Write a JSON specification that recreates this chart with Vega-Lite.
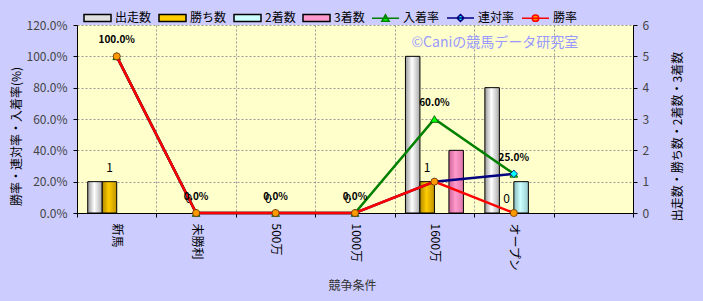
{
  "$schema": "https://vega.github.io/schema/vega-lite/v6.json",
  "width": 556,
  "height": 188,
  "autosize": {"type": "none"},
  "padding": {"left": 77, "top": 25, "right": 70, "bottom": 88},
  "background": "#CCCCFF",
  "config": {
    "view": {"fill": "#FFFFCC", "stroke": null},
    "font": "Noto Sans CJK JP",
    "text": {"font": "Noto Sans CJK JP"},
    "axis": {
      "labelFont": "Noto Sans CJK JP",
      "titleFont": "Noto Sans CJK JP",
      "labelFontSize": 12,
      "titleFontSize": 12,
      "titleFontWeight": "normal",
      "domainColor": "#000000",
      "tickColor": "#000000",
      "gridColor": "#999999",
      "gridDash": [2, 2]
    },
    "legend": {
      "title": null,
      "orient": "none",
      "legendX": 6,
      "legendY": -22,
      "direction": "horizontal",
      "columns": 7,
      "symbolSize": 729,
      "labelFontSize": 12,
      "labelFont": "Noto Sans CJK JP",
      "labelColor": "#000000",
      "labelOffset": 3,
      "columnPadding": 4,
      "padding": 0,
      "symbolOpacity": 1,
      "symbolStrokeWidth": 1.5
    }
  },
  "datasets": {
    "counts": [
      {"cond": "新馬", "series": "出走数", "value": 1},
      {"cond": "新馬", "series": "勝ち数", "value": 1},
      {"cond": "新馬", "series": "2着数", "value": 0},
      {"cond": "新馬", "series": "3着数", "value": 0},
      {"cond": "未勝利", "series": "出走数", "value": 0},
      {"cond": "未勝利", "series": "勝ち数", "value": 0},
      {"cond": "未勝利", "series": "2着数", "value": 0},
      {"cond": "未勝利", "series": "3着数", "value": 0},
      {"cond": "500万", "series": "出走数", "value": 0},
      {"cond": "500万", "series": "勝ち数", "value": 0},
      {"cond": "500万", "series": "2着数", "value": 0},
      {"cond": "500万", "series": "3着数", "value": 0},
      {"cond": "1000万", "series": "出走数", "value": 0},
      {"cond": "1000万", "series": "勝ち数", "value": 0},
      {"cond": "1000万", "series": "2着数", "value": 0},
      {"cond": "1000万", "series": "3着数", "value": 0},
      {"cond": "1600万", "series": "出走数", "value": 5},
      {"cond": "1600万", "series": "勝ち数", "value": 1},
      {"cond": "1600万", "series": "2着数", "value": 0},
      {"cond": "1600万", "series": "3着数", "value": 2},
      {"cond": "オープン", "series": "出走数", "value": 4},
      {"cond": "オープン", "series": "勝ち数", "value": 0},
      {"cond": "オープン", "series": "2着数", "value": 1},
      {"cond": "オープン", "series": "3着数", "value": 0}
    ],
    "rates": [
      {"cond": "新馬", "series": "入着率", "value": 1.0},
      {"cond": "新馬", "series": "連対率", "value": 1.0},
      {"cond": "新馬", "series": "勝率", "value": 1.0},
      {"cond": "未勝利", "series": "入着率", "value": 0},
      {"cond": "未勝利", "series": "連対率", "value": 0},
      {"cond": "未勝利", "series": "勝率", "value": 0},
      {"cond": "500万", "series": "入着率", "value": 0},
      {"cond": "500万", "series": "連対率", "value": 0},
      {"cond": "500万", "series": "勝率", "value": 0},
      {"cond": "1000万", "series": "入着率", "value": 0},
      {"cond": "1000万", "series": "連対率", "value": 0},
      {"cond": "1000万", "series": "勝率", "value": 0},
      {"cond": "1600万", "series": "入着率", "value": 0.6},
      {"cond": "1600万", "series": "連対率", "value": 0.2},
      {"cond": "1600万", "series": "勝率", "value": 0.2},
      {"cond": "オープン", "series": "入着率", "value": 0.25},
      {"cond": "オープン", "series": "連対率", "value": 0.25},
      {"cond": "オープン", "series": "勝率", "value": 0}
    ],
    "note": [
      {"cond": "オープン", "value": 1.085, "label": "©Caniの競馬データ研究室"}
    ]
  },
  "encoding": {
    "x": {
      "field": "cond",
      "type": "nominal",
      "sort": null,
      "scale": {"domain": ["新馬", "未勝利", "500万", "1000万", "1600万", "オープン", " "], "paddingInner": 0, "paddingOuter": 0},
      "axis": {
        "title": "競争条件",
        "titleColor": "#333333",
        "titleX": 275,
        "titleY": 72,
        "titleBaseline": "middle",
        "labelAngle": 90,
        "labelColor": "#000000",
        "labelPadding": 6,
        "tickBand": "extent",
        "tickSize": 4,
        "grid": true
      }
    }
  },
  "layer": [
    {
      "data": {"name": "counts"},
      "encoding": {
        "y": {
          "field": "value",
          "type": "quantitative",
          "scale": {"domain": [0, 6], "nice": false},
          "axis": {
            "orient": "right",
            "title": "出走数・勝ち数・2着数・3着数",
            "titleColor": "#000000",
            "titleAngle": 270,
            "titleX": 44,
            "titleY": 111,
            "titleAlign": "center",
            "titleBaseline": "middle",
            "values": [0, 1, 2, 3, 4, 5, 6],
            "format": "d",
            "grid": false,
            "labelColor": "#444444",
            "tickSize": 4,
            "labelPadding": 5
          }
        },
        "xOffset": {
          "field": "series",
          "type": "nominal",
          "scale": {"domain": ["出走数", "勝ち数", "2着数", "3着数"], "paddingInner": 0, "paddingOuter": 0.74}
        }
      },
      "layer": [
        {
          "transform": [{"filter": "datum.series === '出走数' && datum.value > 0"}],
          "mark": {"type": "bar", "strokeWidth": 1, "fill": {"gradient": "linear", "x1": 0, "x2": 1, "y1": 0, "y2": 0, "stops": [{"offset": 0, "color": "#999999"}, {"offset": 0.45, "color": "#FFFFFF"}, {"offset": 1, "color": "#AAAAAA"}]}},
          "encoding": {
            "stroke": {
              "field": "series",
              "type": "nominal",
              "scale": {"domain": ["出走数", "勝ち数", "2着数", "3着数", "入着率", "連対率", "勝率"], "range": ["#000000", "#000000", "#000000", "#000000", "#008000", "#000080", "#FF0000"]}
            }
          }
        },
        {
          "transform": [{"filter": "datum.series === '勝ち数' && datum.value > 0"}],
          "mark": {"type": "bar", "strokeWidth": 1, "fill": {"gradient": "linear", "x1": 0, "x2": 1, "y1": 0, "y2": 0, "stops": [{"offset": 0, "color": "#B08800"}, {"offset": 0.45, "color": "#FFCC00"}, {"offset": 1, "color": "#C09400"}]}},
          "encoding": {
            "stroke": {"field": "series", "type": "nominal"}
          }
        },
        {
          "transform": [{"filter": "datum.series === '2着数' && datum.value > 0"}],
          "mark": {"type": "bar", "strokeWidth": 1, "fill": {"gradient": "linear", "x1": 0, "x2": 1, "y1": 0, "y2": 0, "stops": [{"offset": 0, "color": "#88BBBB"}, {"offset": 0.45, "color": "#CCFFFF"}, {"offset": 1, "color": "#99CCCC"}]}},
          "encoding": {
            "stroke": {"field": "series", "type": "nominal"}
          }
        },
        {
          "transform": [{"filter": "datum.series === '3着数' && datum.value > 0"}],
          "mark": {"type": "bar", "strokeWidth": 1, "fill": {"gradient": "linear", "x1": 0, "x2": 1, "y1": 0, "y2": 0, "stops": [{"offset": 0, "color": "#CC6699"}, {"offset": 0.45, "color": "#FF99CC"}, {"offset": 1, "color": "#DD77AA"}]}},
          "encoding": {
            "stroke": {"field": "series", "type": "nominal"}
          }
        },
        {
          "transform": [{"filter": "datum.series === '勝ち数'"}],
          "mark": {"type": "text", "dy": -14, "fontSize": 12, "color": "#000000", "baseline": "middle"},
          "encoding": {
            "text": {"field": "value", "type": "quantitative"}
          }
        }
      ]
    },
    {
      "data": {"name": "rates"},
      "encoding": {
        "y": {
          "field": "value",
          "type": "quantitative",
          "scale": {"domain": [0, 1.2], "nice": false},
          "axis": {
            "orient": "left",
            "title": "勝率・連対率・入着率(%)",
            "titleColor": "#000000",
            "titleAngle": 270,
            "titleX": -61,
            "titleY": 111,
            "titleAlign": "center",
            "titleBaseline": "middle",
            "values": [0, 0.2, 0.4, 0.6, 0.8, 1.0, 1.2],
            "format": ".1%",
            "grid": true,
            "labelColor": "#444444",
            "tickSize": 4,
            "labelPadding": 6
          }
        }
      },
      "layer": [
        {
          "transform": [{"filter": "false"}],
          "mark": {"type": "point", "filled": true, "strokeWidth": 1.5, "opacity": 1},
          "encoding": {
            "stroke": {"field": "series", "type": "nominal"},
            "fill": {
              "field": "series",
              "type": "nominal",
              "scale": {"domain": ["出走数", "勝ち数", "2着数", "3着数", "入着率", "連対率", "勝率"], "range": ["#E0E0E0", "#FFCC00", "#CCFFFF", "#FF99CC", "#00FF00", "#00FFFF", "#FF9900"]}
            },
            "shape": {
              "field": "series",
              "type": "nominal",
              "scale": {"domain": ["出走数", "勝ち数", "2着数", "3着数", "入着率", "連対率", "勝率"], "range": ["M-1,-0.26H1V0.26H-1Z", "M-1,-0.26H1V0.26H-1Z", "M-1,-0.26H1V0.26H-1Z", "M-1,-0.26H1V0.26H-1Z", "M-1,0H1M-0.27,0.22L0,-0.26L0.27,0.22Z", "M-1,0H1M0,-0.26L0.26,0L0,0.26L-0.26,0Z", "M-1,0H1M-0.24,0A0.24,0.24,0,1,0,0.24,0A0.24,0.24,0,1,0,-0.24,0Z"]}
            }
          }
        },
        {
          "transform": [{"filter": "datum.series === '入着率'"}],
          "mark": {"type": "line", "strokeWidth": 2.5},
          "encoding": {"stroke": {"field": "series", "type": "nominal"}}
        },
        {
          "transform": [{"filter": "datum.series === '入着率'"}],
          "mark": {"type": "point", "filled": true, "size": 60, "shape": "triangle-up", "fill": "#00FF00", "stroke": "#004400", "strokeWidth": 0.8, "opacity": 1}
        },
        {
          "transform": [{"filter": "datum.series === '連対率'"}],
          "mark": {"type": "line", "strokeWidth": 2.5},
          "encoding": {"stroke": {"field": "series", "type": "nominal"}}
        },
        {
          "transform": [{"filter": "datum.series === '連対率'"}],
          "mark": {"type": "point", "filled": true, "size": 55, "shape": "diamond", "fill": "#00FFFF", "stroke": "#000080", "strokeWidth": 0.8, "opacity": 1}
        },
        {
          "transform": [{"filter": "datum.series === '勝率'"}],
          "mark": {"type": "line", "strokeWidth": 2.5},
          "encoding": {"stroke": {"field": "series", "type": "nominal"}}
        },
        {
          "transform": [{"filter": "datum.series === '勝率'"}],
          "mark": {"type": "point", "filled": true, "size": 50, "shape": "circle", "fill": "#FF9900", "stroke": "#663300", "strokeWidth": 0.8, "opacity": 1}
        },
        {
          "transform": [{"filter": "datum.series === '入着率'"}],
          "mark": {"type": "text", "dy": -16, "fontSize": 10, "fontWeight": "bold", "color": "#000000", "baseline": "middle"},
          "encoding": {
            "text": {"field": "value", "type": "quantitative", "format": ".1%"}
          }
        },
        {
          "data": {"name": "note"},
          "mark": {"type": "text", "fontSize": 14, "color": "#9999FF", "dx": -19, "baseline": "middle"},
          "encoding": {
            "text": {"field": "label", "type": "nominal"}
          }
        }
      ]
    }
  ],
  "resolve": {"scale": {"y": "independent"}}
}
